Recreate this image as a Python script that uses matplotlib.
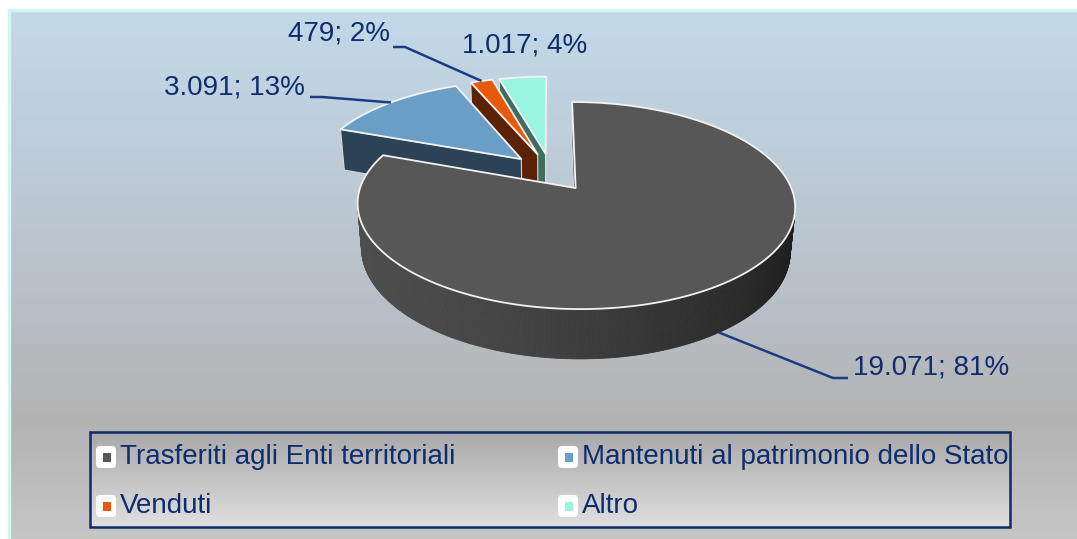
import numpy as np
import matplotlib
matplotlib.use('Agg')
import matplotlib.pyplot as plt
from matplotlib.patches import Polygon, Rectangle, FancyBboxPatch
from matplotlib.collections import PolyCollection
from matplotlib.colors import to_rgb

# Data
categories = ['Trasferiti agli Enti territoriali', 'Mantenuti al patrimonio dello Stato',
              'Venduti', 'Altro']
values = [19071, 3091, 479, 1017]

top_colors = ['#575757', '#699fc7', '#e8590c', '#99f5e2']
side_colors = ['#4d4d4d', '#2b4257', '#5c2206', '#3f6d62']

NAVY = '#0f2c6e'
LEADER = '#1d3c86'
FONT = 'Liberation Sans'

# 3D pie layout (pixels)
CX, CY = 551, 172
F = 1137
DIST = 5.42
ELEV = np.radians(27.0)
DEPTH = 0.235
EXPLODE = 0.2
SE, CE = np.sin(ELEV), np.cos(ELEV)
CAM = np.array([0.0, -DIST * CE, DIST * SE])


def project(x, y, z):
    d = DIST + y * CE - z * SE
    s = y * SE + z * CE
    return CX + F * x / d, CY - F * s / d


def vgradient(ax, extent, stops, z=0):
    pos = [p for p, _ in stops]
    cols = np.array([to_rgb(c) for _, c in stops])
    t = np.linspace(0, 1, 256)
    img = np.stack([np.interp(t, pos, cols[:, k]) for k in range(3)], axis=-1)
    ax.imshow(img[:, None, :], extent=extent, aspect='auto', zorder=z,
              interpolation='bicubic')


def shade(color, f):
    return tuple(np.clip(np.array(to_rgb(color)) * f, 0, 1))


def draw_slice(ax, th_hi, th_lo, top, side):
    mid = np.radians((th_hi + th_lo) / 2)
    ox, oy = EXPLODE * np.cos(mid), EXPLODE * np.sin(mid)
    th = np.radians(np.linspace(th_hi, th_lo, max(int(abs(th_hi - th_lo) * 2), 4)))

    # outer wall, segment by segment
    quads, qcols = [], []
    for a, b in zip(th[:-1], th[1:]):
        m = (a + b) / 2
        n = np.array([np.cos(m), np.sin(m), 0])
        p = np.array([ox + np.cos(m), oy + np.sin(m), -DEPTH / 2])
        if n @ (CAM - p) <= 0:
            continue
        pts = [project(ox + np.cos(a), oy + np.sin(a), 0),
               project(ox + np.cos(b), oy + np.sin(b), 0),
               project(ox + np.cos(b), oy + np.sin(b), -DEPTH),
               project(ox + np.cos(a), oy + np.sin(a), -DEPTH)]
        quads.append(pts)
        qcols.append(shade(side, 1 - 0.62 * ((1 + np.cos(m)) / 2) ** 1.6))
    if quads:
        ax.add_collection(PolyCollection(quads, facecolors=qcols, edgecolors=qcols,
                                         linewidths=0.6, zorder=3))

    # radial faces
    for ang, nang in ((th[0], th[0] + np.pi / 2), (th[-1], th[-1] - np.pi / 2)):
        n = np.array([np.cos(nang), np.sin(nang), 0])
        p = np.array([ox + 0.5 * np.cos(ang), oy + 0.5 * np.sin(ang), -DEPTH / 2])
        if n @ (CAM - p) <= 0:
            continue
        pts = [project(ox, oy, 0), project(ox + np.cos(ang), oy + np.sin(ang), 0),
               project(ox + np.cos(ang), oy + np.sin(ang), -DEPTH), project(ox, oy, -DEPTH)]
        ax.add_patch(Polygon(pts, closed=True, facecolor=side, edgecolor='#d8d8d8',
                             lw=0.8, zorder=3))

    # top
    pts = [project(ox, oy, 0)] + [project(ox + np.cos(t), oy + np.sin(t), 0) for t in th]
    ax.add_patch(Polygon(pts, closed=True, facecolor=top, edgecolor='#f2f2f2',
                         lw=1.3, zorder=3, joinstyle='round'))
    return ox, oy, mid


def fmt_label(v, total):
    return f"{v:,}".replace(',', '.') + f"; {round(100 * v / total)}%"


def main():
    fig = plt.figure(figsize=(10.77, 5.39), dpi=100)
    ax = fig.add_axes([0, 0, 1, 1])
    ax.set_xlim(0, 1077)
    ax.set_ylim(539, 0)
    ax.axis('off')

    # chart area background
    vgradient(ax, (9, 1077, 539, 10),
              [(0, '#c3d9e8'), (0.5, '#b9c2cb'), (0.78, '#b3b3b3'), (1, '#c6c6c6')])
    ax.plot([9, 9, 1077], [539, 10, 10], color='#d2f5ee', lw=2.4, zorder=1,
            solid_joinstyle='miter')

    total = sum(values)
    angles = np.cumsum([0] + [v / total * 360 for v in values])
    starts = 90 - angles[:-1]
    ends = 90 - angles[1:]

    geo = {}
    order = sorted(range(len(values)),
                   key=lambda i: -np.sin(np.radians((starts[i] + ends[i]) / 2)))
    for i in order:
        geo[i] = draw_slice(ax, starts[i], ends[i], top_colors[i], side_colors[i])

    # data labels: (text x, text y, ha, knee, end, anchor depth)
    label_layout = [
        (853, 368, 'left', (833, 378), (848, 378), -DEPTH),
        (305, 88, 'right', (322, 97), (310, 97), 0),
        (390, 33, 'right', (405, 47), (393, 47), 0),
        (462, 45, 'left', None, None, 0),
    ]
    for i, (tx, ty, ha, knee, end, z) in enumerate(label_layout):
        ax.text(tx, ty, fmt_label(values[i], total), ha=ha, va='center',
                fontsize=20, color=NAVY, family=FONT, zorder=5)
        if knee is None:
            continue
        ox, oy, mid = geo[i]
        a = project(ox + np.cos(mid), oy + np.sin(mid), z)
        ax.plot([a[0], knee[0], end[0]], [a[1], knee[1], end[1]], color=LEADER,
                lw=1.8, zorder=4, solid_capstyle='butt')

    # legend
    vgradient(ax, (90, 1010, 527, 432), [(0, '#a9a9a9'), (1, '#dfdfdf')], z=5)
    ax.add_patch(Rectangle((90, 432), 920, 95, facecolor='none', edgecolor='#0d2a6b',
                           lw=1.8, zorder=6))
    leg_x = [96, 558]
    leg_y = [457, 506]
    for i, name in enumerate(categories):
        x0, y0 = leg_x[i % 2], leg_y[i // 2]
        ax.add_patch(FancyBboxPatch((x0, y0 - 11), 20, 22,
                                    boxstyle='round,pad=0,rounding_size=4',
                                    facecolor='white', edgecolor='none', zorder=6))
        ax.add_patch(Rectangle((x0 + 7, y0 - 4.5), 8, 9, facecolor=top_colors[i],
                               edgecolor='none', zorder=7))
        ax.text(x0 + 24, y0, name, ha='left', va='center', fontsize=20,
                color=NAVY, family=FONT, zorder=7)

    fig.savefig('out.png', dpi=100, facecolor='white')
    plt.close(fig)


if __name__ == "__main__":
    main()
